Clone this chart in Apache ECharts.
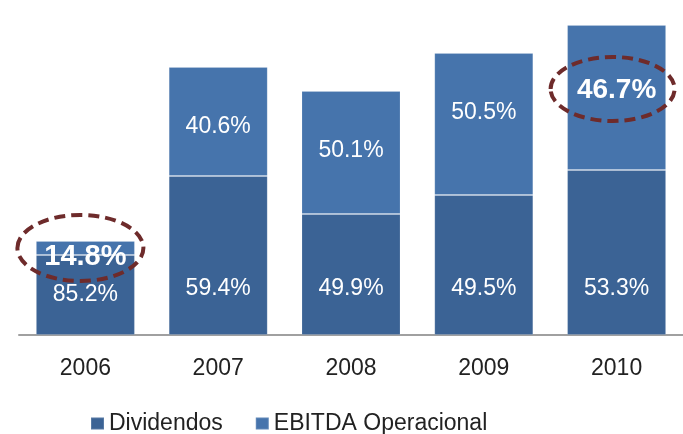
<!DOCTYPE html>
<html>
<head>
<meta charset="utf-8">
<script src="https://cdn.jsdelivr.net/npm/echarts@6/dist/echarts.min.js"></script>
<style>
  html, body { margin: 0; padding: 0; background: #fff; }
  #chart { width: 683px; height: 434px; }
</style>
</head>
<body>
<div id="chart"></div>
<script>
// bar sizes (relative units), labels are the printed shares
var years = ['2006', '2007', '2008', '2009', '2010'];
var dividendos = [80, 159, 121, 140, 165];
var ebitda = [14, 109, 123, 142, 145];
var dividendosPct = ['85.2%', '59.4%', '49.9%', '49.5%', '53.3%'];
var ebitdaPct = ['14.8%', '40.6%', '50.1%', '50.5%', '46.7%'];

var DARK = '#3b6395';
var LIGHT = '#4674ac';

// circled labels (annotation only)
var marks = [
	{ idx: 0, dx: -5, dy: 7, rx: 63, ry: 33, dist: 1, size: 29, divDist: 29 },
	{ idx: 4, dx: -4, dy: 64, rx: 62, ry: 32, dist: 51, size: 28 }
];

var myChart = echarts.init(document.getElementById('chart'));

var divData = dividendos.map(function (v, i) {
	var item = { value: v };
	marks.forEach(function (m) {
		if (m.idx === i && m.divDist) item.label = { distance: m.divDist };
	});
	return item;
});

var ebData = ebitda.map(function (v, i) {
	var item = { value: v };
	marks.forEach(function (m) {
		if (m.idx === i) {
			item.label = { distance: m.dist, fontSize: m.size, fontWeight: 'bold' };
		}
	});
	return item;
});

var option = {
	backgroundColor: '#fff',
	animation: false,
	textStyle: { fontFamily: 'Liberation Sans, Arial, sans-serif' },
	grid: { left: 19, right: -3, top: 0, bottom: 99 },
	legend: {
		left: 85,
		top: 407,
		itemWidth: 13,
		itemHeight: 12,
		itemGap: 32,
		icon: 'rect',
		textStyle: { fontSize: 23, color: '#222' },
		data: ['Dividendos', 'EBITDA Operacional']
	},
	xAxis: {
		type: 'category',
		data: years,
		axisLine: { lineStyle: { color: '#a0a0a0', width: 2 } },
		axisTick: { show: false },
		axisLabel: { color: '#222', fontSize: 23, margin: 22 }
	},
	yAxis: {
		type: 'value',
		min: 0,
		max: 335,
		show: false,
		splitLine: { show: false }
	},
	series: [{
		name: 'Dividendos',
		type: 'bar',
		stack: 'total',
		barWidth: 99,
		itemStyle: { color: DARK, borderColor: 'rgba(255,255,255,0.15)', borderWidth: 1 },
		label: {
			show: true,
			position: 'insideBottom',
			distance: 35,
			color: '#fff',
			fontSize: 23,
			formatter: function (p) { return dividendosPct[p.dataIndex]; }
		},
		data: divData
	}, {
		name: 'EBITDA Operacional',
		type: 'bar',
		stack: 'total',
		barWidth: 99,
		itemStyle: { color: LIGHT, borderColor: 'rgba(255,255,255,0.15)', borderWidth: 1 },
		label: {
			show: true,
			position: 'insideTop',
			distance: 48,
			color: '#fff',
			fontSize: 23,
			formatter: function (p) { return ebitdaPct[p.dataIndex]; }
		},
		data: ebData
	}]
};
myChart.setOption(option);

// dashed ellipses round the circled labels
var shapes = marks.map(function (m) {
	var top = dividendos[m.idx] + ebitda[m.idx];
	var pt = myChart.convertToPixel({ gridIndex: 0 }, [years[m.idx], top]);
	return {
		type: 'ellipse',
		z: 100,
		shape: { cx: pt[0] + m.dx, cy: pt[1] + m.dy, rx: m.rx, ry: m.ry },
		style: { fill: null, stroke: '#6e2b2b', lineWidth: 4, lineDash: [11, 6] }
	};
});
myChart.setOption({ graphic: shapes });
</script>
</body>
</html>
